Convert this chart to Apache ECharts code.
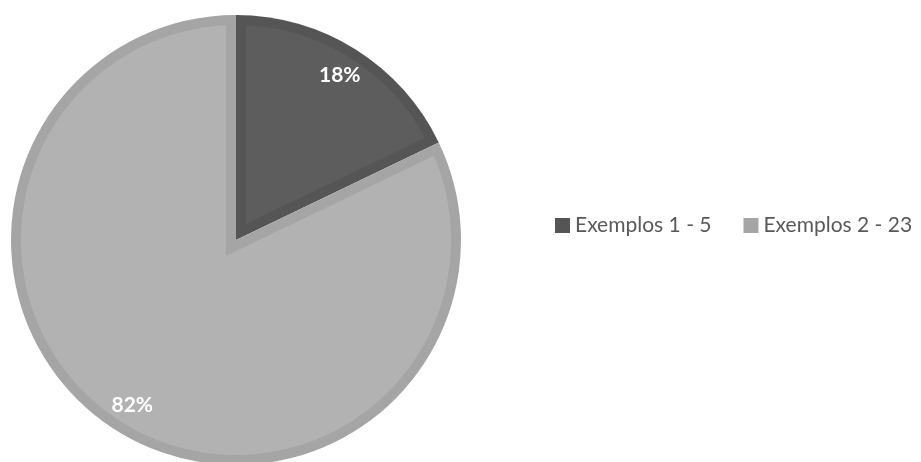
<!DOCTYPE html>
<html>
<head>
<meta charset="utf-8">
<script src="https://cdn.jsdelivr.net/npm/echarts@6/dist/echarts.min.js"></script>
<style>
  html, body { margin: 0; padding: 0; background: #ffffff; }
  #chart { width: 921px; height: 462px; }
</style>
</head>
<body>
<div id="chart"></div>
<script>
// Slice names and counts
const categories = ['Exemplos 1 - 5', 'Exemplos 2 - 23'];
const values = [5, 23];

// Fill and edge colours for each slice
const fillColors = ['#5d5d5d', '#b2b2b2'];
const edgeColors = ['#555555', '#a5a5a5'];

const CX = 236, CY = 240, R = 225;   // pie centre and radius
const EDGE = 10;                      // width of the inner slice outline
const LABEL_R = 195;                  // distance of percentage labels from centre

const total = values.reduce((a, b) => a + b, 0);
// clockwise angle (radians, from 12 o'clock) where each slice starts
const starts = [];
values.reduce((acc, v) => { starts.push(acc); return acc + v / total * Math.PI * 2; }, 0);

function pt(phi, r) {
  return [CX + r * Math.sin(phi), CY - r * Math.cos(phi)];
}

// Inner fill of a slice, inset from its outline by EDGE on every side
function renderSlice(params, api) {
  const i = params.dataIndex;
  const v = api.value(1);
  const span = v / total * Math.PI * 2;
  const p0 = starts[i];
  const p1 = p0 + span;
  const mid = (p0 + p1) / 2;
  const apex = pt(mid, EDGE / Math.sin(span / 2));
  const ri = R - EDGE;
  const delta = Math.asin(EDGE / ri);
  const points = [apex];
  const steps = Math.max(8, Math.ceil((span - 2 * delta) / (Math.PI / 360)));
  for (let k = 0; k <= steps; k++) {
    const a = p0 + delta + (span - 2 * delta) * k / steps;
    points.push(pt(a, ri));
  }
  const lp = pt(mid, LABEL_R);
  const pct = Math.round(v / total * 100) + '%';
  return {
    type: 'group',
    children: [
      {
        type: 'polygon',
        shape: { points: points },
        style: { fill: fillColors[i], stroke: null }
      },
      {
        type: 'text',
        x: lp[0],
        y: lp[1],
        style: {
          text: pct,
          fill: '#ffffff',
          font: 'bold 21px Lato',
          align: 'center',
          verticalAlign: 'middle'
        }
      }
    ]
  };
}

const chart = echarts.init(document.getElementById('chart'), null, { renderer: 'canvas' });
chart.setOption({
  animation: false,
  backgroundColor: '#ffffff',
  legend: {
    data: categories,
    orient: 'horizontal',
    left: 555,
    top: 215,
    width: 366,
    padding: 0,
    itemWidth: 15,
    itemHeight: 15,
    itemGap: 32,
    icon: 'rect',
    selectedMode: false,
    textStyle: { color: '#595959', fontFamily: 'Lato', fontSize: 21 }
  },
  series: [
    {
      type: 'pie',
      name: 'outline',
      center: [CX, CY],
      radius: [0, R],
      startAngle: 90,
      clockwise: true,
      silent: true,
      label: { show: false },
      labelLine: { show: false },
      emphasis: { disabled: true },
      data: categories.map((name, i) => ({
        name: name,
        value: values[i],
        itemStyle: { color: edgeColors[i], borderWidth: 0 }
      }))
    },
    {
      type: 'custom',
      coordinateSystem: 'none',
      silent: true,
      renderItem: renderSlice,
      data: values.map((v, i) => [i, v]),
      z: 3
    }
  ]
});
</script>
</body>
</html>
